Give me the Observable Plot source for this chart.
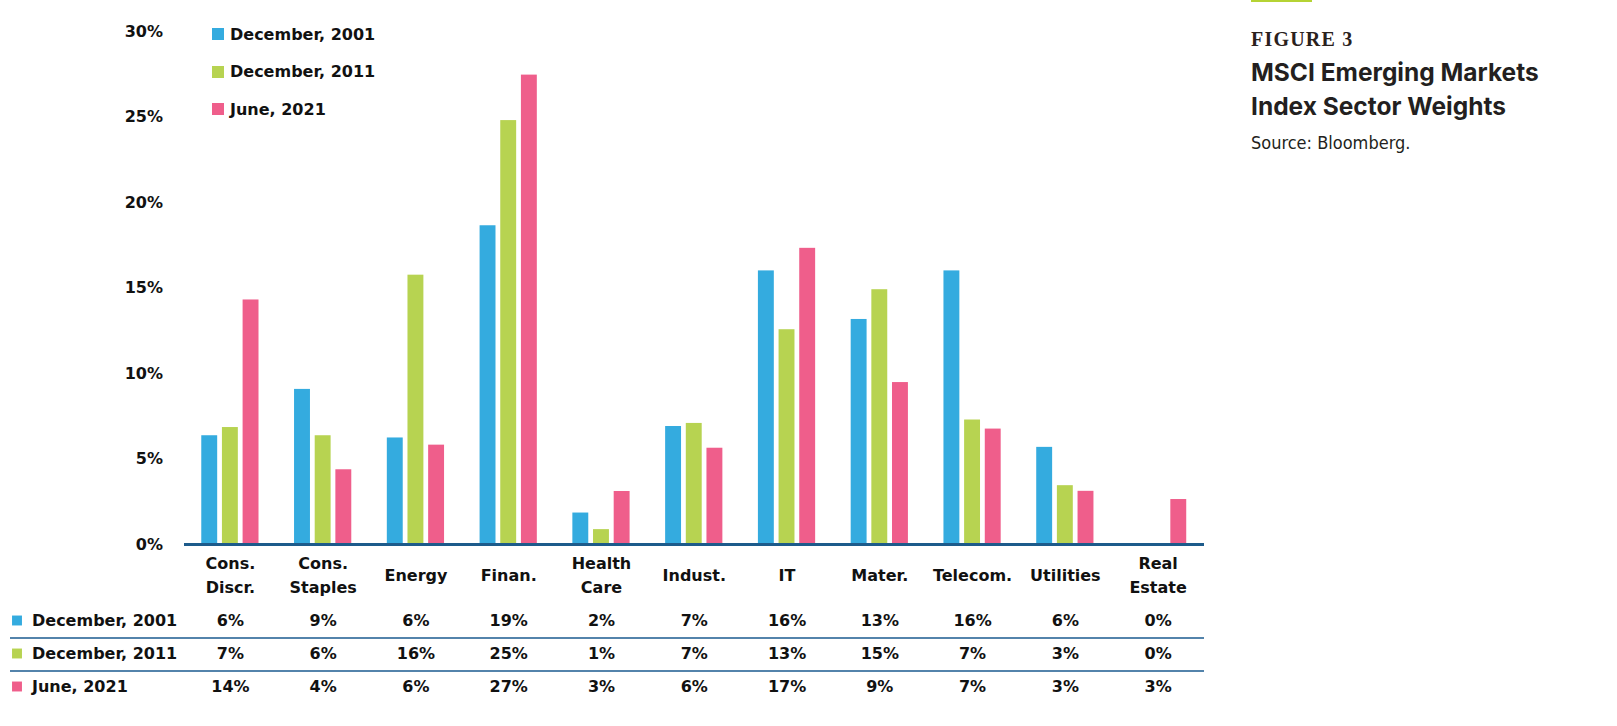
<!DOCTYPE html>
<html>
<head>
<meta charset="utf-8">
<script src="https://cdn.jsdelivr.net/npm/d3@7"></script>
<script src="https://cdn.jsdelivr.net/npm/@observablehq/plot@0.6"></script>
<style>
  html, body { margin: 0; padding: 0; background: #fff; }
  #wrap { position: relative; width: 1617px; height: 726px; overflow: hidden; font-family: "DejaVu Sans", sans-serif; color: #111; }
  #chart { position: absolute; left: 0; top: 0; }
  #legend { position: absolute; left: 212px; top: 25px; font-weight: 700; font-size: 16px; }
  #legend .row { display: flex; align-items: center; height: 18px; margin-bottom: 19.5px; }
  #legend .sw { width: 12px; height: 12px; margin-right: 6px; }
  #accent { position: absolute; left: 1251px; top: 0; width: 61px; height: 2px; background: #b5d334; }
  #fig { position: absolute; left: 1251px; top: 28px; font-family: "Liberation Serif", "DejaVu Serif", serif; font-weight: 700; font-size: 20px; letter-spacing: 1.2px; color: #2a211c; }
  #title { position: absolute; left: 1251px; top: 55px; font-family: Inter, sans-serif; font-weight: 700; font-size: 24.5px; line-height: 34px; color: #231f20; }
  #source { position: absolute; left: 1251px; top: 132px; font-family: "Liberation Sans Narrow", "DejaVu Sans Condensed", sans-serif; font-stretch: condensed; font-size: 18px; color: #231f20; }
</style>
</head>
<body>
<div id="wrap">
  <div id="chart"></div>
  <div id="legend"></div>
  <div id="accent"></div>
  <div id="fig">FIGURE 3</div>
  <div id="title">MSCI Emerging Markets<br>Index Sector Weights</div>
  <div id="source">Source: Bloomberg.</div>
</div>
<script>
// ---- data ----
const categories = ["Cons.\nDiscr.", "Cons.\nStaples", "Energy", "Finan.", "Health\nCare", "Indust.", "IT", "Mater.", "Telecom.", "Utilities", "Real\nEstate"];
const series = ["December, 2001", "December, 2011", "June, 2021"];
const dec2001 = [6.36, 9.07, 6.23, 18.64, 1.84, 6.9, 16.0, 13.16, 16.0, 5.68, 0];
const dec2011 = [6.84, 6.36, 15.75, 24.79, 0.87, 7.08, 12.56, 14.9, 7.28, 3.44, 0];
const jun2021 = [14.3, 4.37, 5.81, 27.45, 3.1, 5.63, 17.32, 9.47, 6.75, 3.11, 2.63];
const tableLabels2001 = ["6%", "9%", "6%", "19%", "2%", "7%", "16%", "13%", "16%", "6%", "0%"];
const tableLabels2011 = ["7%", "6%", "16%", "25%", "1%", "7%", "13%", "15%", "7%", "3%", "0%"];
const tableLabels2021 = ["14%", "4%", "6%", "27%", "3%", "6%", "17%", "9%", "7%", "3%", "3%"];
const yTicks = [0, 5, 10, 15, 20, 25, 30];
const colors = ["#34abdf", "#b7d351", "#ef5e8b"];

const seriesValues = [dec2001, dec2011, jun2021];
const tableLabels = [tableLabels2001, tableLabels2011, tableLabels2021];
const data = categories.flatMap((c, i) => series.map((s, j) => ({category: c, series: s, value: seriesValues[j][i]})));

const rowDy = [76, 109, 142];
const sepDy = [93, 126];
const axisColor = "#1d5b8b";
const sepColor = "#5383ab";

const marks = [
  Plot.barY(data, {fx: "category", x: "series", y: "value", fill: "series"}),
  Plot.ruleY([0], {stroke: axisColor, strokeWidth: 3, shapeRendering: "crispEdges"}),
  Plot.text(categories, {fx: d => d, text: d => d, frameAnchor: "bottom", dy: 29, lineAnchor: "middle", lineHeight: 1.5})
];
series.forEach((s, j) => {
  marks.push(Plot.text(categories, {fx: d => d, text: (d, i) => tableLabels[j][i], frameAnchor: "bottom", lineAnchor: "middle", dy: rowDy[j]}));
  marks.push(Plot.text([s], {text: d => d, frameAnchor: "bottom-left", lineAnchor: "middle", dx: -152, dy: rowDy[j], textAnchor: "start", facetAnchor: "left"}));
  marks.push(Plot.dot([s], {frameAnchor: "bottom-left", dx: -167, dy: rowDy[j], symbol: "square", r: 5.6, fill: colors[j], facetAnchor: "left"}));
});
sepDy.forEach(dy => {
  marks.push(Plot.ruleY([0], {dy, stroke: sepColor, strokeWidth: 2, shapeRendering: "crispEdges"}));
  marks.push(Plot.ruleY([0], {dy, stroke: sepColor, strokeWidth: 2, shapeRendering: "crispEdges", insetLeft: -173.5, facetAnchor: "left"}));
});

const chart = Plot.plot({
  width: 1617,
  height: 726,
  marginLeft: 183.5,
  marginRight: 413,
  marginTop: 31,
  marginBottom: 182,
  style: {fontFamily: "'DejaVu Sans', sans-serif", fontSize: "16px", fontWeight: 700, color: "#111", background: "#fff", overflow: "visible"},
  fx: {domain: categories, paddingInner: 0, paddingOuter: 0, round: false, axis: null, label: null},
  x: {domain: series, paddingInner: 0.23, paddingOuter: 0.86, round: false, axis: null, label: null},
  y: {domain: [0, 30], ticks: yTicks, tickFormat: d => d + "%", tickSize: 0, tickPadding: 21, label: null},
  color: {domain: series, range: colors},
  marks
});
document.getElementById("chart").appendChild(chart);

// legend
const legend = document.getElementById("legend");
series.forEach((s, j) => {
  const row = document.createElement("div");
  row.className = "row";
  const sw = document.createElement("div");
  sw.className = "sw";
  sw.style.background = colors[j];
  const t = document.createElement("span");
  t.textContent = s;
  row.appendChild(sw);
  row.appendChild(t);
  legend.appendChild(row);
});
</script>
</body>
</html>
